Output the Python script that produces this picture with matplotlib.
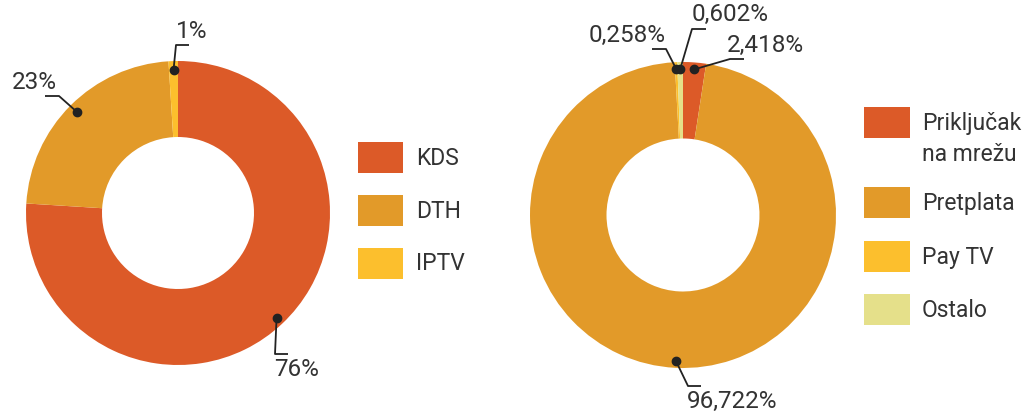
import numpy as np
import matplotlib
matplotlib.use("Agg")
import matplotlib.pyplot as plt
from matplotlib.patches import Rectangle

# tržišni udio po tehnologiji
left_labels = ["KDS", "DTH", "IPTV"]
left_values = [76, 23, 1]
left_colors = ["#dc5a28", "#e29a29", "#fcbf2d"]

# struktura prihoda
right_labels = ["Priključak\nna mrežu", "Pretplata", "Pay TV", "Ostalo"]
right_values = [2.418, 96.722, 0.258, 0.602]
right_colors = ["#dc5a28", "#e29a29", "#fcbf2d", "#e5e08a"]

W, H = 1023, 417
TXT = "#333333"
plt.rcParams["font.family"] = ["Roboto", "DejaVu Sans"]

fig = plt.figure(figsize=(W / 100, H / 100), dpi=100)
ax = fig.add_axes([0, 0, 1, 1])


def py(y):
    # pixel row -> data y (y axis points up)
    return H - y


def donut(center, radius, values, colors):
    ax.pie(values, colors=colors, startangle=90, counterclock=False,
           center=center, radius=radius,
           wedgeprops=dict(width=radius * 0.5, linewidth=0))
    tot = float(sum(values))
    cum = np.cumsum([0] + list(values))[:-1] / tot
    mids = 90 - 360 * (cum + np.array(values) / tot / 2)
    return mids


def callout(center, r, ang, elbow, end, text, tx, ty, ha="left", va="bottom"):
    a = np.deg2rad(ang)
    dx, dy = center[0] + r * np.cos(a), center[1] + r * np.sin(a)
    ax.plot([dx, elbow[0], end[0]], [dy, py(elbow[1]), py(end[1])],
            color="#222222", lw=1.3, solid_capstyle="butt", zorder=5)
    ax.plot(dx, dy, "o", color="#222222", ms=6, zorder=6)
    ax.text(tx, py(ty), text, fontsize=17.5, color=TXT, ha=ha, va=va)


# lijevi prsten
c1 = (178, py(213))
r1 = 152
m1 = donut(c1, r1, left_values, left_colors)
lt = [f"{v}%" for v in left_values]
callout(c1, 144, m1[0], (275, 354), (288, 354), lt[0], 274, 358, va="top")
callout(c1, 143, m1[1], (59, 96), (45, 96), lt[1], 57, 94, ha="right")
callout(c1, 143, m1[2], (176, 45), (189, 45), lt[2], 176, 43)

# desni prsten
c2 = (683, py(215))
r2 = 153
m2 = donut(c2, r2, right_values, right_colors)
rt = [f"{v:.3f}".replace(".", ",") + "%" for v in right_values]
callout(c2, 146, m2[0], (730, 59), (744, 59), rt[0], 727, 57)
callout(c2, 146, m2[1], (688, 386), (701, 386), rt[1], 687, 390, va="top")
callout(c2, 146, m2[2], (666, 49), (652, 49), rt[2], 666, 47, ha="right")
callout(c2, 146, m2[3], (692, 29), (706, 29), rt[3], 692, 26)

# legende
for i, (lab, col) in enumerate(zip(left_labels, left_colors)):
    y0 = 142 + i * 53
    ax.add_patch(Rectangle((358, py(y0 + 31)), 45, 31, color=col, lw=0))
    ax.text(416, py(y0 + 16), lab, fontsize=16.5, color=TXT, va="center")

right_rows = [107, 187, 241, 294]
for y0, lab, col in zip(right_rows, right_labels, right_colors):
    ax.add_patch(Rectangle((864, py(y0 + 31)), 46, 31, color=col, lw=0))
    ax.text(922, py(y0 + 5), lab, fontsize=16.5, color=TXT, va="top",
            linespacing=1.45)

ax.set_xlim(0, W)
ax.set_ylim(0, H)
ax.set_aspect("equal")
ax.axis("off")
fig.savefig("out.png", dpi=100, facecolor="white")
